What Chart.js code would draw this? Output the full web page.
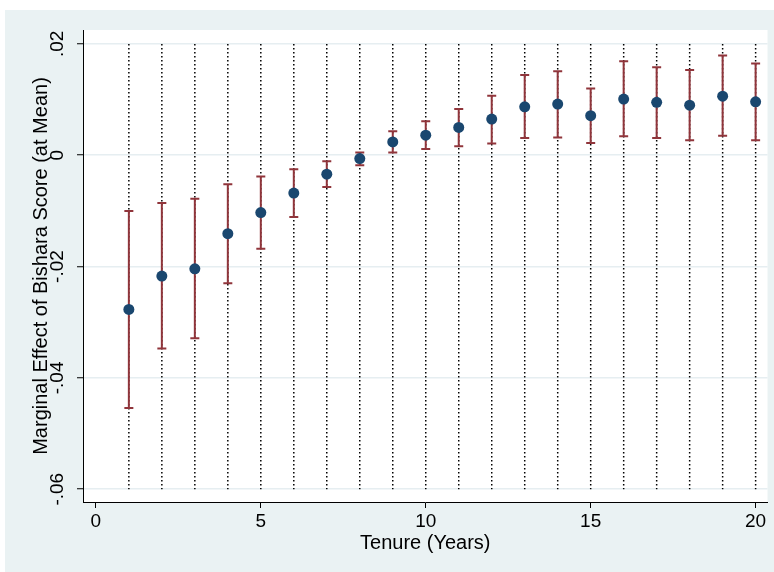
<!DOCTYPE html>
<html>
<head>
<meta charset="utf-8">
<script src="https://cdn.jsdelivr.net/npm/chart.js@4.4.1/dist/chart.umd.min.js"></script>
<style>
	html, body { margin: 0; padding: 0; background: #fff; }
	canvas { display: block; }
</style>
</head>
<body>
<canvas id="chart" width="774" height="572"></canvas>
<script>
// tenure in years
const tenure = [1, 2, 3, 4, 5, 6, 7, 8, 9, 10, 11, 12, 13, 14, 15, 16, 17, 18, 19, 20];
// marginal effect of Bishara score (at mean)
const effect = [-0.0277, -0.0217, -0.0204, -0.0141, -0.0103, -0.0068, -0.0034, -0.0006, 0.0024, 0.0036,
	0.0050, 0.0065, 0.0087, 0.0092, 0.0071, 0.0101, 0.0095, 0.0090, 0.0106, 0.0096];
const ciHigh = [-0.0100, -0.0086, -0.0078, -0.0052, -0.0038, -0.0025, -0.0011, 0.0005, 0.0043, 0.0061,
	0.0083, 0.0107, 0.0144, 0.0151, 0.0120, 0.0169, 0.0158, 0.0153, 0.0179, 0.0165];
const ciLow = [-0.0454, -0.0347, -0.0329, -0.0230, -0.0168, -0.0111, -0.0057, -0.0018, 0.0005, 0.0011,
	0.0016, 0.0021, 0.0031, 0.0032, 0.0022, 0.0034, 0.0031, 0.0027, 0.0035, 0.0027];
const xTicks = [0, 5, 10, 15, 20];
const yTicks = [-0.06, -0.04, -0.02, 0, 0.02];
// dotted guides run from the top to the bottom tick
const guideTop = 0.02;
const guideBottom = -0.06;

const navy = '#1a476f';
const maroon = '#90353b';
const regionColor = '#eaf2f3';

const fmtY = v => {
	if (Math.abs(v) < 1e-9) return '0';
	return v.toFixed(2).replace('0.', '.');
};

const guides = tenure.flatMap(t => [{x: t, y: guideTop}, {x: t, y: guideBottom}, {x: t, y: null}]);
const bars = tenure.flatMap((t, i) => [{x: t, y: ciLow[i]}, {x: t, y: ciHigh[i]}, {x: t, y: null}]);
const caps = tenure.flatMap((t, i) => [{x: t, y: ciLow[i]}, {x: t, y: ciHigh[i]}]);
const points = tenure.map((t, i) => ({x: t, y: effect[i]}));

const background = {
	id: 'background',
	beforeDraw(chart) {
		const {ctx, chartArea} = chart;
		ctx.save();
		ctx.fillStyle = '#fff';
		ctx.fillRect(0, 0, chart.width, chart.height);
		ctx.fillStyle = regionColor;
		ctx.fillRect(5, 10, chart.width - 5, chart.height - 10);
		ctx.fillStyle = '#fff';
		ctx.fillRect(chartArea.left, chartArea.top, chartArea.right - chartArea.left, chartArea.bottom - chartArea.top);
		ctx.restore();
	}
};

const tickFont = {family: '"Liberation Sans", Arial, sans-serif', size: 19};
const titleFont = {family: '"Liberation Sans", Arial, sans-serif', size: 20};

new Chart(document.getElementById('chart'), {
	type: 'scatter',
	data: {
		datasets: [
			{
				data: points,
				backgroundColor: navy,
				borderColor: navy,
				pointRadius: 5.5,
				pointBorderWidth: 0
			},
			{
				data: caps,
				pointStyle: 'line',
				pointRadius: 4.5,
				borderColor: maroon,
				pointBorderWidth: 2
			},
			{
				data: bars,
				showLine: true,
				spanGaps: false,
				pointRadius: 0,
				borderColor: maroon,
				borderWidth: 2
			},
			{
				data: guides,
				showLine: true,
				spanGaps: false,
				pointRadius: 0,
				borderColor: '#000',
				borderWidth: 1.5,
				borderDash: [1.5, 2.5]
			}
		]
	},
	options: {
		responsive: false,
		animation: false,
		events: [],
		layout: {padding: {top: 30, right: 6, left: 0, bottom: 0}},
		plugins: {
			legend: {display: false},
			tooltip: {enabled: false}
		},
		scales: {
			x: {
				type: 'linear',
				min: -0.39,
				max: 20.36,
				afterBuildTicks: scale => { scale.ticks = xTicks.map(v => ({value: v})); },
				afterFit: scale => { scale.height = 70; },
				ticks: {
					font: tickFont,
					color: '#000',
					padding: 2,
					maxRotation: 0,
					callback: v => String(v)
				},
				grid: {
					color: 'rgba(0,0,0,0)',
					drawOnChartArea: false,
					tickColor: '#000',
					tickLength: 6,
					tickWidth: 1
				},
				border: {color: '#000', width: 1},
				title: {
					display: true,
					text: 'Tenure (Years)',
					font: titleFont,
					color: '#000',
					padding: {top: 0, bottom: 17}
				}
			},
			y: {
				min: -0.0623,
				max: 0.0225,
				afterBuildTicks: scale => { scale.ticks = yTicks.map(v => ({value: v})); },
				afterFit: scale => { scale.width = 83; },
				ticks: {
					font: tickFont,
					color: '#000',
					minRotation: 90,
					maxRotation: 90,
					crossAlign: 'center',
					padding: 3,
					callback: v => fmtY(v)
				},
				grid: {
					color: '#e6eef1',
					lineWidth: 1.5,
					tickColor: '#000',
					tickLength: 6,
					tickWidth: 1
				},
				border: {color: '#000', width: 1},
				title: {
					display: true,
					text: 'Marginal Effect of Bishara Score (at Mean)',
					font: titleFont,
					color: '#000',
					padding: {top: 29, bottom: 0}
				}
			}
		}
	},
	plugins: [background]
});
</script>
</body>
</html>
